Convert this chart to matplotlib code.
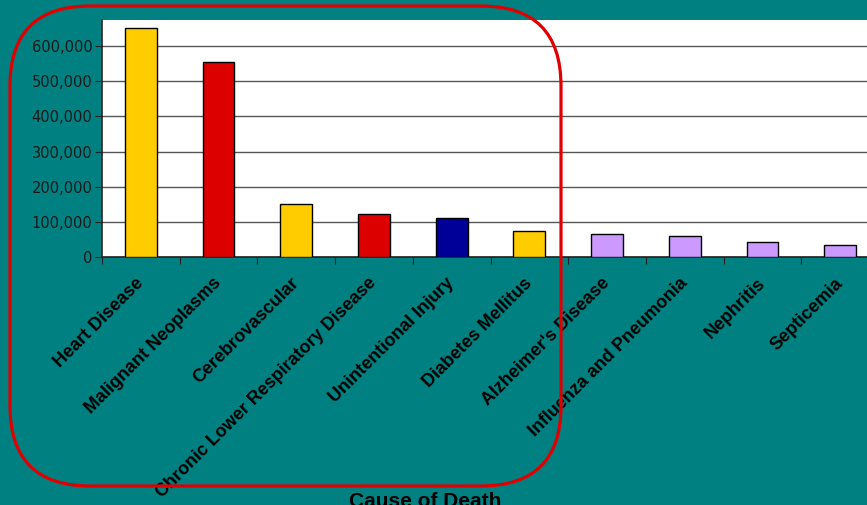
import matplotlib
matplotlib.use("Agg")
import matplotlib.pyplot as plt
from matplotlib.patches import FancyBboxPatch
from matplotlib.transforms import IdentityTransform
from matplotlib.ticker import FuncFormatter, MultipleLocator
import numpy as np

causes = ["Heart Disease", "Malignant Neoplasms", "Cerebrovascular",
          "Chronic Lower Respiratory Disease", "Unintentional Injury",
          "Diabetes Mellitus", "Alzheimer's Disease", "Influenza and Pneumonia",
          "Nephritis", "Septicemia"]
deaths = [652486, 553888, 150074, 121987, 112012, 73138, 65965, 59664, 42480, 33373]
bar_colors = ["#FFCC00", "#DD0000", "#FFCC00", "#DD0000", "#000099",
              "#FFCC00", "#CC99FF", "#CC99FF", "#CC99FF", "#CC99FF"]
x_title = "Cause of Death"
chart_title = "Ten Leading Causes of Death in the U.S. (2004 data)"

W, H = 867, 505
fig = plt.figure(figsize=(W / 100, H / 100), dpi=100)
fig.patch.set_facecolor("#008080")

left, right, top, bottom = 102, 879, 20, 257
ax = fig.add_axes([left / W, (H - bottom) / H, (right - left) / W, (bottom - top) / H])
ax.set_facecolor("white")

n = len(causes)
xs = np.arange(n)
ax.bar(xs, deaths, width=0.41, color=bar_colors, edgecolor="black", linewidth=1.0, zorder=3)

ax.set_xlim(-0.5, n - 0.5)
ax.set_ylim(0, 674000)
ax.yaxis.set_major_locator(MultipleLocator(100000))
ax.yaxis.set_major_formatter(FuncFormatter(lambda v, p: f"{int(v):,}"))
ax.grid(axis="y", color="#555555", linewidth=1.0, zorder=0)

for s in ["top", "right"]:
    ax.spines[s].set_visible(False)
ax.spines["left"].set_color("#222222")
ax.spines["bottom"].set_color("#222222")
ax.spines["left"].set_linewidth(1.2)
ax.spines["bottom"].set_linewidth(1.2)

ax.tick_params(axis="y", direction="out", length=5, color="#222222",
               labelsize=10.5, labelcolor="#1a1a1a", pad=2)
for lab in ax.get_yticklabels():
    lab.set_family("DejaVu Sans")

ax.set_xticks(np.arange(n + 1) - 0.5)
ax.set_xticklabels([])
ax.tick_params(axis="x", which="major", direction="out", length=5, color="#222222")
ax.set_xticks(xs, minor=True)
ax.set_xticklabels(causes, minor=True, rotation=45, ha="right", va="center",
                   rotation_mode="anchor", fontsize=12.9, fontweight="bold",
                   family="Liberation Sans", color="black")
ax.tick_params(axis="x", which="minor", length=0, pad=17)

fig.text(425 / W, 1 - 507 / H, x_title, ha="center", va="baseline",
         fontsize=15, fontweight="bold", family="Liberation Sans", color="black")

fig.text(545 / W, 1 + 15 / H, chart_title, ha="center", va="baseline",
         fontsize=22, color="#FFFFCC", family="Liberation Sans")

# red rounded annotation box, pixel coordinates from top-left
x0, y0, x1, y1 = 10, 6, 561, 486
r = 80
box = FancyBboxPatch((x0, H - y1), x1 - x0, y1 - y0,
                     boxstyle=f"round,pad=0,rounding_size={r}", transform=IdentityTransform(),
                     facecolor="none", edgecolor="#E00000", linewidth=2.3, zorder=10)
fig.patches.append(box)

fig.savefig("out.png", dpi=100, facecolor=fig.get_facecolor())
